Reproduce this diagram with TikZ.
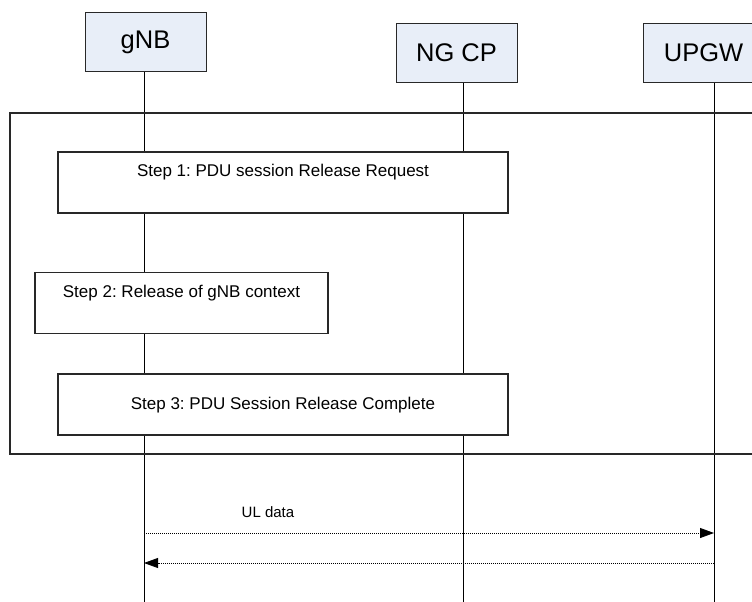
\documentclass[tikz,border=0pt]{standalone}
\usepackage{fontspec}
\setmainfont{Liberation Sans}
\usetikzlibrary{arrows.meta}
\definecolor{headfill}{RGB}{232,238,248}
\definecolor{edgegray}{RGB}{40,40,40}
\frenchspacing

\begin{document}
\begin{tikzpicture}[x=1pt, y=-1pt,
  entity/.style={draw=edgegray, fill=headfill, line width=1pt, minimum width=121pt, minimum height=59pt, inner sep=0pt, font=\fontsize{25.5}{30}\selectfont},
  stepbox/.style={draw=edgegray, fill=white, line width=1.2pt, minimum height=61pt, inner sep=0pt},
  steptext/.style={inner sep=0pt, font=\fontsize{17}{20}\selectfont},
  lifeline/.style={line width=0.8pt},
  msg/.style={line width=0.8pt, dash pattern=on 1pt off 1pt, -{Triangle[length=14pt,width=10pt]}}
]
\clip (0,0) rectangle (752,602);

% entities
\node[entity] (gnb) at (145.5,42.5) {gNB};
\node[entity] (ngcp) at (456.5,53) {NG CP};
\node[entity] (upgw) at (703.5,53) {UPGW};

% lifelines
\coordinate (gnbend) at (144,602);
\coordinate (ngcpend) at (463,602);
\coordinate (upgwend) at (714,602);
\draw[lifeline] (gnb.south -| gnbend) -- (gnbend);
\draw[lifeline] (ngcp.south -| ngcpend) -- (ngcpend);
\draw[lifeline] (upgw.south -| upgwend) -- (upgwend);

% release procedure
\node[draw=edgegray, line width=1.2pt, minimum width=750pt, minimum height=341pt, inner sep=0pt] (frame) at (385,283.5) {};

\node[stepbox, minimum width=450pt] (step1) at (283,182.5) {};
\node[steptext] (step1txt) at (283,172) {Step 1: PDU session Release Request};

\node[stepbox, minimum width=293pt] (step2) at (181.5,303) {};
\node[steptext] (step2txt) at (181.5,293) {Step 2: Release of gNB context};

\node[stepbox, minimum width=450pt] (step3) at (283,404.5) {};
\node[steptext] (step3txt) at (283,405) {Step 3: PDU Session Release Complete};

% user plane
\coordinate (ulgnb) at (144,533);
\coordinate (ulupgw) at (714,533);
\coordinate (dlgnb) at (144,563);
\coordinate (dlupgw) at (714,563);
\draw[msg] (ulgnb) -- (ulupgw);
\draw[msg] (dlupgw) -- (dlgnb);
\node[steptext, font=\fontsize{15}{18}\selectfont] (uldata) at (268,512) {UL data};
\end{tikzpicture}
\end{document}
